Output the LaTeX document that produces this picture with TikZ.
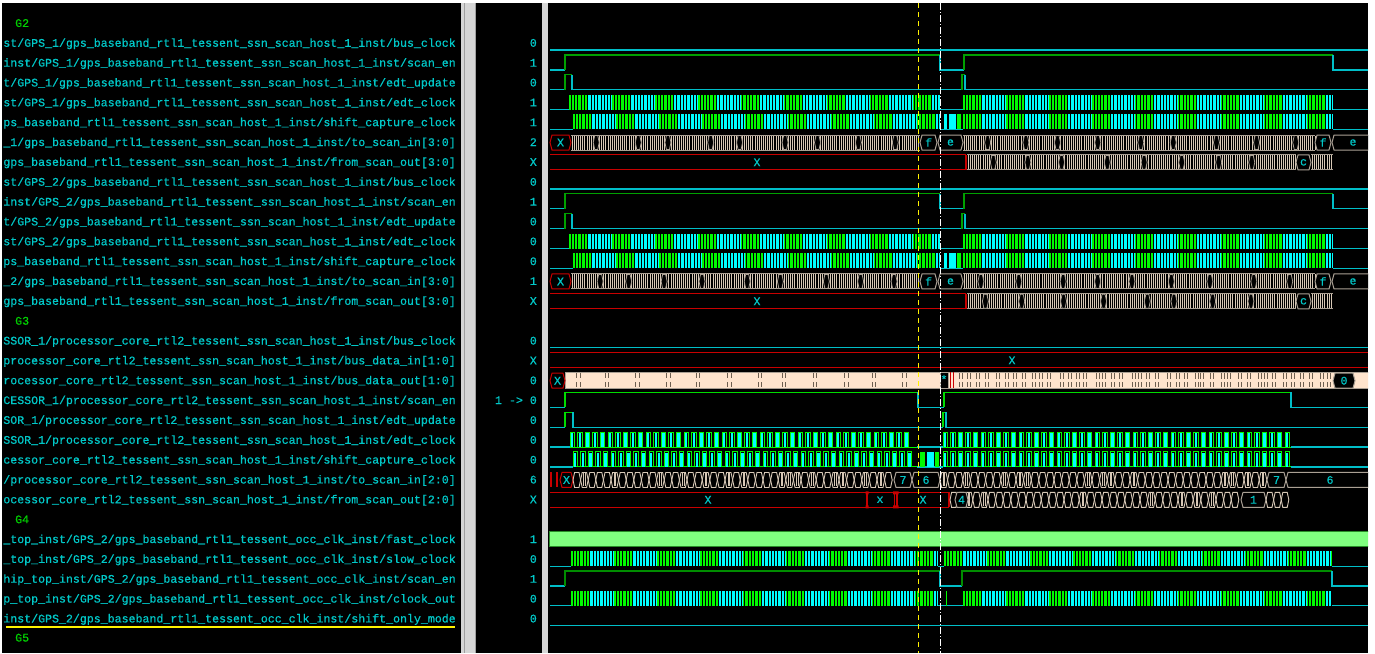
\documentclass[tikz,border=0pt]{standalone}
\usepackage{fontspec}
\setmonofont[FakeBold=0.6]{Liberation Mono}
\usepackage{tikz}
\definecolor{sigtext}{RGB}{0,200,200}
\definecolor{lowc}{RGB}{0,190,200}
\definecolor{hic}{RGB}{0,160,0}
\definecolor{hibright}{RGB}{0,220,0}
\definecolor{hidark}{RGB}{0,140,0}
\definecolor{clkg}{RGB}{0,250,0}
\definecolor{clkc}{RGB}{0,255,255}
\definecolor{busc}{RGB}{215,200,182}
\definecolor{busedge}{RGB}{170,160,148}
\definecolor{xred}{RGB}{200,0,0}
\definecolor{peach}{RGB}{255,228,205}
\definecolor{tickc}{RGB}{110,95,80}
\definecolor{fastg}{RGB}{128,255,128}
\definecolor{fastedge}{RGB}{40,140,40}
\definecolor{grpg}{RGB}{0,210,0}
\definecolor{sepgray}{RGB}{214,214,214}
\definecolor{sepdark}{RGB}{160,160,160}
\tikzstyle{signame}=[anchor=base east, inner sep=0pt, text=sigtext, font=\ttfamily\fontsize{11.6}{12}\selectfont]
\tikzstyle{grpname}=[anchor=base west, inner sep=0pt, text=grpg, font=\ttfamily\fontsize{11.6}{12}\selectfont]
\tikzstyle{valtext}=[inner sep=0pt, text=sigtext, font=\ttfamily\fontsize{11.6}{12}\selectfont]
\tikzstyle{loline}=[draw=lowc, line width=1.2pt]
\tikzstyle{hiline}=[draw=hic, line width=1.2pt]
\tikzstyle{sqline}=[draw=clkg, line width=0.9pt]
\tikzstyle{xline}=[draw=xred, line width=1.2pt]
\tikzset{sigrow/.style={yshift={-(22.9+19.85*(#1))}}}
\newcommand{\hiseg}[2]{\draw[hiline] (#1,7.3) -- (#1,-7.7) -- (#2,-7.7);}
\newcommand{\loseg}[2]{\draw[loline] (#1,-7.7) -- (#1,7.3) -- (#2,7.3);}
\newcommand{\loflat}[2]{\draw[loline] (#1,7.3) -- (#2,7.3);}
\newcommand{\clkrun}[2]{%
\pgfmathtruncatemacro\ckn{(#2-#1)/43}
\foreach \k in {0,...,\ckn}{
\pgfmathsetmacro\cka{#1+43*\k}
\pgfmathsetmacro\ckb{min(\cka+19,#2)}
\pgfmathsetmacro\ckc{min(\cka+43,#2)}
\fill[clkg] (\cka,-7.7) rectangle (\ckb,7.3);
\ifdim\ckb pt<\ckc pt \fill[clkc] (\ckb,-7.7) rectangle (\ckc,7.3); \fi}
\pgfmathsetmacro\cks{#1+2.2}\pgfmathsetmacro\ckt{#1+5.5}
\foreach \x in {\cks,\ckt,...,#2}{\draw[black, line width=0.7pt] (\x,-7.7) -- (\x,7.3);}}
\newcommand{\sqrun}[2]{%
\draw[sqline] (#1,7.3) -- (#2,7.3);
\pgfmathsetmacro\sqa{#1}\pgfmathsetmacro\sqb{#1+7.6}\pgfmathsetmacro\sqe{#2-5}
\foreach \x in {\sqa,\sqb,...,\sqe}{
\fill[clkc] (\x+1,-7) rectangle (\x+3.4,7.3);
\draw[sqline] (\x,7.3) -- (\x,-7.7) -- (\x+4.4,-7.7) -- (\x+4.4,7.3);}}
\newcommand{\busrun}[2]{%
\draw[busedge, line width=1pt] (#1,-7) -- (#2,-7) (#1,8) -- (#2,8);
\pgfmathsetmacro\bsa{#1+1.2}\pgfmathsetmacro\bsb{#1+3.3}
\foreach \x in {\bsa,\bsb,...,#2}{\draw[busc, line width=0.8pt] (\x,-6.5) -- (\x,7.5);}
\pgfmathtruncatemacro\bsn{(#2-#1)/38}
\ifnum\bsn>0
\foreach \k in {1,...,\bsn}{\pgfmathsetmacro\bsx{#1+38*\k-22+14*rnd}
\filldraw[fill=black, draw=busedge, line width=0.8pt] (\bsx-3,0.5) -- (\bsx-1.5,-6.5) -- (\bsx+1.5,-6.5) -- (\bsx+3,0.5) -- (\bsx+1.5,7.5) -- (\bsx-1.5,7.5) -- cycle;}
\fi}
\newcommand{\hexrun}[2]{%
\pgfmathsetmacro\hxa{#1}\pgfmathsetmacro\hxb{#1+7.6}\pgfmathsetmacro\hxe{#2-7.6}
\foreach \x in {\hxa,\hxb,...,\hxe}{
\draw[busc, line width=0.9pt] (\x,0.5) -- (\x+1.6,-7) -- (\x+6,-7) -- (\x+7.6,0.5) -- (\x+6,8) -- (\x+1.6,8) -- cycle;
\pgfmathsetmacro\hxr{rnd}
\ifdim\hxr pt<0.3pt \draw[busc, line width=0.8pt] (\x+3,-6) -- (\x+3,7) (\x+4.6,-6) -- (\x+4.6,7); \fi}}
\newcommand{\busval}[3]{\filldraw[fill=black, draw=busedge, line width=1pt] (#1,0.5) -- (#1+2,-7) -- (#2-2,-7) -- (#2,0.5) -- (#2-2,8) -- (#1+2,8) -- cycle;
\node[valtext] at ({(#1+#2)/2},0.5) {#3};}
\newcommand{\busx}[2]{\filldraw[fill=black, draw=xred, line width=1pt] (#1,0.5) -- (#1+2,-7) -- (#2-2,-7) -- (#2,0.5) -- (#2-2,8) -- (#1+2,8) -- cycle;
\node[valtext] at ({(#1+#2)/2},0.5) {X};}
\newcommand{\xrun}[3]{\draw[xline] (#1,-7) -- (#2,-7) (#1,8) -- (#2,8);
\node[valtext] at (#3,0.5) {X};}

\begin{document}
\begin{tikzpicture}[x=1pt,y=-1pt]
\pgfmathsetseed{11}
\useasboundingbox (0,0) rectangle (1375,653);
\fill[white] (0,0) rectangle (1375,653);
\fill[black] (2,3) rectangle (461,653);
\fill[sepgray] (461,3) rectangle (476,653);
\draw[sepdark, line width=1pt] (464,3) -- (464,653) (475,3) -- (475,653);
\fill[black] (476,3) rectangle (542,653);
\fill[sepgray] (542,3) rectangle (548,653);
\fill[black] (548,3) rectangle (1368,653);

\begin{scope}
\clip (2,3) rectangle (461,653);
\node[grpname] (g2) at (15,26.9) {G2};
\node[signame] (s1) at (456,46.75) {st/GPS\_1/gps\_baseband\_rtl1\_tessent\_ssn\_scan\_host\_1\_inst/bus\_clock};
\node[signame] (s2) at (456,66.6) {inst/GPS\_1/gps\_baseband\_rtl1\_tessent\_ssn\_scan\_host\_1\_inst/scan\_en};
\node[signame] (s3) at (456,86.45) {t/GPS\_1/gps\_baseband\_rtl1\_tessent\_ssn\_scan\_host\_1\_inst/edt\_update};
\node[signame] (s4) at (456,106.3) {st/GPS\_1/gps\_baseband\_rtl1\_tessent\_ssn\_scan\_host\_1\_inst/edt\_clock};
\node[signame] (s5) at (456,126.15) {ps\_baseband\_rtl1\_tessent\_ssn\_scan\_host\_1\_inst/shift\_capture\_clock};
\node[signame] (s6) at (456,146.0) {\_1/gps\_baseband\_rtl1\_tessent\_ssn\_scan\_host\_1\_inst/to\_scan\_in[3:0]};
\node[signame] (s7) at (456,165.85) {gps\_baseband\_rtl1\_tessent\_ssn\_scan\_host\_1\_inst/from\_scan\_out[3:0]};
\node[signame] (s8) at (456,185.7) {st/GPS\_2/gps\_baseband\_rtl1\_tessent\_ssn\_scan\_host\_1\_inst/bus\_clock};
\node[signame] (s9) at (456,205.55) {inst/GPS\_2/gps\_baseband\_rtl1\_tessent\_ssn\_scan\_host\_1\_inst/scan\_en};
\node[signame] (s10) at (456,225.4) {t/GPS\_2/gps\_baseband\_rtl1\_tessent\_ssn\_scan\_host\_1\_inst/edt\_update};
\node[signame] (s11) at (456,245.25) {st/GPS\_2/gps\_baseband\_rtl1\_tessent\_ssn\_scan\_host\_1\_inst/edt\_clock};
\node[signame] (s12) at (456,265.1) {ps\_baseband\_rtl1\_tessent\_ssn\_scan\_host\_1\_inst/shift\_capture\_clock};
\node[signame] (s13) at (456,284.95) {\_2/gps\_baseband\_rtl1\_tessent\_ssn\_scan\_host\_1\_inst/to\_scan\_in[3:0]};
\node[signame] (s14) at (456,304.8) {gps\_baseband\_rtl1\_tessent\_ssn\_scan\_host\_1\_inst/from\_scan\_out[3:0]};
\node[grpname] (g3) at (15,324.65) {G3};
\node[signame] (s16) at (456,344.5) {SSOR\_1/processor\_core\_rtl2\_tessent\_ssn\_scan\_host\_1\_inst/bus\_clock};
\node[signame] (s17) at (456,364.35) {processor\_core\_rtl2\_tessent\_ssn\_scan\_host\_1\_inst/bus\_data\_in[1:0]};
\node[signame] (s18) at (456,384.2) {rocessor\_core\_rtl2\_tessent\_ssn\_scan\_host\_1\_inst/bus\_data\_out[1:0]};
\node[signame] (s19) at (456,404.05) {CESSOR\_1/processor\_core\_rtl2\_tessent\_ssn\_scan\_host\_1\_inst/scan\_en};
\node[signame] (s20) at (456,423.9) {SOR\_1/processor\_core\_rtl2\_tessent\_ssn\_scan\_host\_1\_inst/edt\_update};
\node[signame] (s21) at (456,443.75) {SSOR\_1/processor\_core\_rtl2\_tessent\_ssn\_scan\_host\_1\_inst/edt\_clock};
\node[signame] (s22) at (456,463.6) {cessor\_core\_rtl2\_tessent\_ssn\_scan\_host\_1\_inst/shift\_capture\_clock};
\node[signame] (s23) at (456,483.45) {/processor\_core\_rtl2\_tessent\_ssn\_scan\_host\_1\_inst/to\_scan\_in[2:0]};
\node[signame] (s24) at (456,503.3) {ocessor\_core\_rtl2\_tessent\_ssn\_scan\_host\_1\_inst/from\_scan\_out[2:0]};
\node[grpname] (g4) at (15,523.15) {G4};
\node[signame] (s26) at (456,543.0) {\_top\_inst/GPS\_2/gps\_baseband\_rtl1\_tessent\_occ\_clk\_inst/fast\_clock};
\node[signame] (s27) at (456,562.85) {\_top\_inst/GPS\_2/gps\_baseband\_rtl1\_tessent\_occ\_clk\_inst/slow\_clock};
\node[signame] (s28) at (456,582.7) {hip\_top\_inst/GPS\_2/gps\_baseband\_rtl1\_tessent\_occ\_clk\_inst/scan\_en};
\node[signame] (s29) at (456,602.55) {p\_top\_inst/GPS\_2/gps\_baseband\_rtl1\_tessent\_occ\_clk\_inst/clock\_out};
\node[signame] (s30) at (456,622.4) {inst/GPS\_2/gps\_baseband\_rtl1\_tessent\_occ\_clk\_inst/shift\_only\_mode};
\draw[yellow, line width=2.5pt] (6,627) -- (455,627);
\node[grpname] (g5) at (15,641.5) {G5};
\end{scope}

\node[signame] (v1) at (537,46.75) {0};
\node[signame] (v2) at (537,66.6) {1};
\node[signame] (v3) at (537,86.45) {0};
\node[signame] (v4) at (537,106.3) {1};
\node[signame] (v5) at (537,126.15) {1};
\node[signame] (v6) at (537,146.0) {2};
\node[signame] (v7) at (537,165.85) {X};
\node[signame] (v8) at (537,185.7) {0};
\node[signame] (v9) at (537,205.55) {1};
\node[signame] (v10) at (537,225.4) {0};
\node[signame] (v11) at (537,245.25) {0};
\node[signame] (v12) at (537,265.1) {0};
\node[signame] (v13) at (537,284.95) {1};
\node[signame] (v14) at (537,304.8) {X};
\node[signame] (v16) at (537,344.5) {0};
\node[signame] (v17) at (537,364.35) {X};
\node[signame] (v18) at (537,384.2) {0};
\node[signame] (v19) at (537,404.05) {1 -> 0};
\node[signame] (v20) at (537,423.9) {0};
\node[signame] (v21) at (537,443.75) {0};
\node[signame] (v22) at (537,463.6) {0};
\node[signame] (v23) at (537,483.45) {6};
\node[signame] (v24) at (537,503.3) {X};
\node[signame] (v26) at (537,543.0) {1};
\node[signame] (v27) at (537,562.85) {0};
\node[signame] (v28) at (537,582.7) {1};
\node[signame] (v29) at (537,602.55) {0};
\node[signame] (v30) at (537,622.4) {0};

\begin{scope}
\clip (548,3) rectangle (1368,653);
\foreach \g in {0,7}{
\begin{scope}[sigrow=1+\g] \loflat{550}{1368} \end{scope}
\begin{scope}[sigrow=2+\g] \loflat{550}{565} \hiseg{565}{940} \loseg{940}{964} \hiseg{964}{1333} \loseg{1333}{1368} \end{scope}
\begin{scope}[sigrow=3+\g] \loflat{550}{565} \hiseg{565}{572} \loseg{572}{962} \hiseg{962}{965} \loseg{965}{1368} \end{scope}
\begin{scope}[sigrow=4+\g] \loflat{550}{569} \clkrun{569}{940} \loflat{940}{963} \clkrun{963}{1333} \loflat{1333}{1368} \end{scope}
\begin{scope}[sigrow=5+\g] \loflat{550}{573} \clkrun{573}{940} \loflat{940}{963}
\fill[clkc] (944,-7.7) rectangle (947,7.3);
\fill[clkc] (949,-7.7) rectangle (956,7.3);
\fill[clkg] (957,-7.7) rectangle (961,7.3);
\clkrun{963}{1333} \loflat{1333}{1368} \end{scope}
\begin{scope}[sigrow=6+\g] \busx{550}{571} \busrun{571}{920} \busval{920}{937}{f} \busval{938}{963}{e} \busrun{963}{1315} \busval{1315}{1331}{f} \busval{1332}{1374}{e} \end{scope}
\begin{scope}[sigrow=7+\g] \xrun{550}{966}{757} \draw[xline] (966,-7) -- (966,8); \busrun{967}{1296} \busval{1296}{1311}{c} \busrun{1311}{1333} \end{scope}
}

\begin{scope}[sigrow=16] \loflat{550}{1368} \end{scope}
\begin{scope}[sigrow=17] \draw[xline] (550,-8) -- (1368,-8) (550,7.5) -- (1368,7.5); \node[valtext] at (1012,0) {X}; \end{scope}
\begin{scope}[sigrow=18]
\filldraw[fill=peach, draw=busedge, line width=1pt] (565,-8) rectangle (1372,8);
\foreach \k in {0,...,11}{\pgfmathsetmacro\tx{570+30*\k+10*rnd}
\draw[tickc, line width=1pt] (\tx,-7) -- (\tx,-2) (\tx,2) -- (\tx,7) (\tx+3.5,-7) -- (\tx+3.5,-2) (\tx+3.5,2) -- (\tx+3.5,7);}
\foreach \k in {0,...,41}{\pgfmathsetmacro\tx{957+9*\k+5*rnd}
\draw[tickc, line width=1pt] (\tx,-7) -- (\tx,-1) (\tx,2) -- (\tx,7) (\tx+3,-7) -- (\tx+3,-1) (\tx+3,2) -- (\tx+3,7);}
\busx{550}{565}
\filldraw[fill=black, draw=busedge, line width=1pt] (940,-8) rectangle (948,8);
\node[valtext] at (944,-1) {*};
\draw[xred, line width=1pt] (950,-8) -- (950,8) (953,-8) -- (953,8);
\busval{1333}{1355}{0}
\end{scope}
\begin{scope}[sigrow=19, hiline/.style={draw=hibright, line width=1.2pt}]
\loflat{550}{565} \hiseg{565}{918} \loseg{918}{944} \hiseg{944}{1291} \loseg{1291}{1368} \end{scope}
\begin{scope}[sigrow=20, hiline/.style={draw=hibright, line width=1.2pt}]
\loflat{550}{565} \hiseg{565}{573} \loseg{573}{943} \hiseg{943}{946} \loseg{946}{1368} \end{scope}
\begin{scope}[sigrow=21] \loflat{550}{570} \sqrun{570}{917} \loflat{917}{943} \sqrun{943}{1291} \loflat{1291}{1368} \end{scope}
\begin{scope}[sigrow=22] \loflat{550}{573} \sqrun{573}{917} \loflat{917}{943}
\fill[clkg] (920,-7.7) rectangle (925,7.3);
\fill[clkc] (927,-7.7) rectangle (934,7.3);
\fill[clkg] (935,-7.7) rectangle (939,7.3);
\sqrun{943}{1291} \loflat{1291}{1368} \end{scope}
\begin{scope}[sigrow=23]
\draw[xred, line width=1.2pt] (551,-7) -- (551,8) (557,-7) -- (557,8);
\busx{560}{573} \hexrun{573}{894} \busval{894}{912}{7} \busval{912}{940}{6} \hexrun{940}{1267} \busval{1267}{1286}{7} \busval{1286}{1374}{6}
\end{scope}
\begin{scope}[sigrow=24]
\xrun{550}{949}{708} \draw[xline] (949,-7) -- (949,8);
\draw[xred, line width=1.5pt] (867,-7) -- (867,8) (894.5,-7) -- (894.5,8) (897,-7) -- (897,8);
\fill[xred] (865.5,-8) rectangle (868.5,-5) (865.5,6) rectangle (868.5,9) (893,-8) rectangle (898.5,-5) (893,6) rectangle (898.5,9);
\node[valtext] at (880,0.5) {x};
\node[valtext] at (923,0.5) {X};
\hexrun{950}{1241} \busval{955}{968}{4} \busval{1241}{1266}{1} \hexrun{1266}{1291}
\end{scope}

\begin{scope}[sigrow=26] \filldraw[fill=fastg, draw=fastedge, line width=1pt] (549,-8) rectangle (1375,7); \end{scope}
\begin{scope}[sigrow=27] \loflat{550}{571} \clkrun{571}{938} \loflat{938}{944} \clkrun{944}{1332} \loflat{1332}{1368} \end{scope}
\begin{scope}[sigrow=28, hiline/.style={draw=hidark, line width=1.2pt}]
\loflat{550}{565} \hiseg{565}{940} \loseg{940}{962} \hiseg{962}{1332} \loseg{1332}{1368} \end{scope}
\begin{scope}[sigrow=29] \loflat{550}{571} \clkrun{571}{938} \loflat{938}{963} \draw[clkg, line width=1pt] (946,-7.7) -- (946,7.3); \clkrun{963}{1332} \loflat{1332}{1368} \end{scope}
\begin{scope}[sigrow=30] \loflat{550}{1368} \end{scope}

\draw[yellow, line width=1pt, dash pattern=on 5pt off 4pt] (918,3) -- (918,653);
\draw[white, line width=1pt, dash pattern=on 7pt off 2pt on 1pt off 2pt] (940,3) -- (940,653);
\end{scope}
\end{tikzpicture}
\end{document}
